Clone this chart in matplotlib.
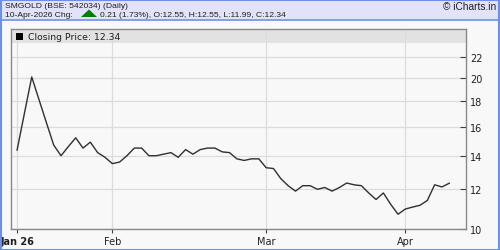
import matplotlib
matplotlib.use('Agg')
import matplotlib.pyplot as plt
from matplotlib.patches import Rectangle, Polygon
from matplotlib.ticker import FixedLocator, NullLocator

# closing prices, one per trading day (Jan 2026 - 10 Apr 2026)
closes = [14.37, 17.0, 20.1, 18.1, 16.3, 14.7, 14.0, 14.6, 15.2, 14.5,
          14.9, 14.2, 13.9, 13.5, 13.6, 14.0, 14.5, 14.5, 14.0, 14.0,
          14.1, 14.2, 13.9, 14.4, 14.1, 14.4, 14.5, 14.5, 14.25, 14.2,
          13.8, 13.7, 13.8, 13.8, 13.25, 13.2, 12.6, 12.2, 11.9, 12.2,
          12.2, 12.0, 12.1, 11.9, 12.1, 12.35, 12.25, 12.2, 11.8, 11.45,
          11.8, 11.2, 10.7, 10.96, 11.06, 11.15, 11.4, 12.25, 12.13, 12.34]
month_idx = [0, 13, 34, 53]
month_labels = ['Jan 26', 'Feb', 'Mar', 'Apr']
y_ticks = [10, 12, 14, 16, 18, 20, 22]

title1 = 'SMGOLD (BSE: 542034) (Daily)'
title2a = '10-Apr-2026 Chg:'
title2b = '0.21 (1.73%), O:12.55, H:12.55, L:11.99, C:12.34'

W, H = 500, 251
fig = plt.figure(figsize=(W / 100, H / 100), dpi=100, facecolor='#f8f8f8')
hdr_font = 'Liberation Sans'

# header band and frame
fig.patches.append(Rectangle((0, 1 - 20 / H), 1, 20 / H, transform=fig.transFigure,
                             facecolor='#e2e2f8', edgecolor='none', zorder=0))
fig.lines.append(plt.Line2D([0, 1], [1 - 20.5 / H] * 2, transform=fig.transFigure,
                            color='#6a90e8', lw=1.2))
fig.patches.append(Rectangle((0.5 / W, 0.5 / H), 1 - 1.5 / W, 1 - 1.5 / H,
                             transform=fig.transFigure, facecolor='none',
                             edgecolor='#6a90e8', lw=1.5, zorder=5))

fig.text(5 / W, 1 - 6.5 / H, title1, fontsize=6.1, family=hdr_font, va='center', color='#202020')
fig.text(5 / W, 1 - 16 / H, title2a, fontsize=6.1, family=hdr_font, va='center', color='#202020')
fig.patches.append(Polygon([(81 / W, 1 - 18 / H), (97 / W, 1 - 18 / H), (89 / W, 1 - 10.5 / H)],
                           closed=True, transform=fig.transFigure,
                           facecolor='#008000', edgecolor='none'))
fig.text(100 / W, 1 - 16 / H, title2b, fontsize=6.1, family=hdr_font, va='center', color='#202020')
fig.text(496 / W, 1 - 7 / H, '© iCharts.in', fontsize=7.3, family=hdr_font,
         va='center', ha='right', color='#202020')

ax = fig.add_axes([11 / W, 1 - 230 / H, 455 / W, 200 / H])
ax.set_facecolor('#f8f8f8')
ax.plot(range(len(closes)), closes, color='#303030', lw=1.0, zorder=3)

ax.set_yscale('log')
ax.set_ylim(10, 25.05)
ax.set_xlim(-0.83, 61.28)

ax.yaxis.tick_right()
ax.yaxis.set_major_locator(FixedLocator(y_ticks))
ax.yaxis.set_minor_locator(NullLocator())
ax.set_yticklabels([str(v) for v in y_ticks])
ax.tick_params(axis='y', direction='in', length=4, width=0.8, color='#404040',
               labelsize=7, pad=3, labelcolor='#202020')

ax.set_xticks(month_idx)
ax.set_xticklabels(month_labels)
ax.get_xticklabels()[0].set_fontweight('bold')
ax.tick_params(axis='x', direction='out', length=3, width=0.8, color='#404040',
               labelsize=7, pad=2, labelcolor='#202020')

ax.grid(True, color='#dcdcdc', lw=0.9)
ax.set_axisbelow(True)
for s in ax.spines.values():
    s.set_color('#888888')
    s.set_linewidth(1.0)

# legend band
ax.add_patch(Rectangle((0, 1 - 14 / 200), 1, 14 / 200, transform=ax.transAxes,
                       facecolor='#e2e2e2', edgecolor='none', zorder=0.2))
ax.add_patch(Rectangle((5 / 455, 1 - 10.5 / 200), 7 / 455, 7 / 200, transform=ax.transAxes,
                       facecolor='black', edgecolor='none', zorder=4))
ax.text(17 / 455, 1 - 7.5 / 200, 'Closing Price: 12.34', transform=ax.transAxes,
        fontsize=6.7, va='center', color='#202020', zorder=4)

fig.savefig('out.png', dpi=100, facecolor=fig.get_facecolor())
